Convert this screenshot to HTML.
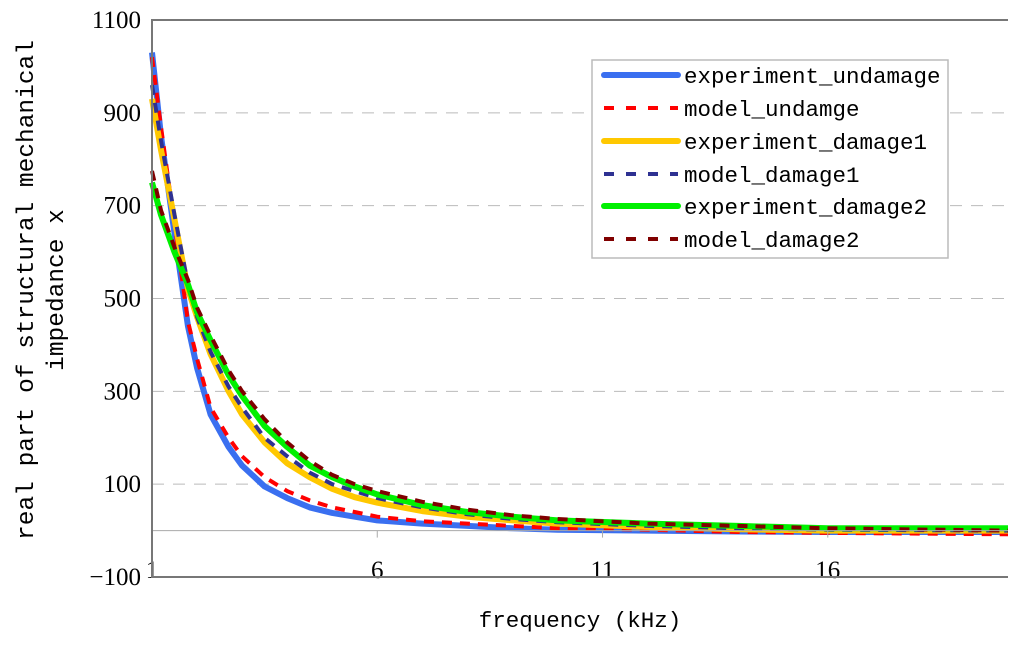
<!DOCTYPE html>
<html><head><meta charset="utf-8"><style>
body{margin:0;background:#fff;}
svg{display:block;font-family:"Liberation Serif",serif;}
.mono{font-family:"Liberation Mono","DejaVu Sans Mono",monospace;}
</style></head><body>
<svg id="chart" width="1024" height="645" viewBox="0 0 1024 645" xmlns="http://www.w3.org/2000/svg">
<g id="grid"></g>
<g id="series"></g>
<g id="axes"></g>
<g id="legend"></g>
<text class="mono" x="580" y="627" font-size="22.5" text-anchor="middle">frequency (kHz)</text>
<text class="mono" font-size="24.5" text-anchor="middle" transform="translate(33,290) rotate(-90)">real part of structural mechanical</text>
<text class="mono" font-size="24.5" text-anchor="middle" transform="translate(63,290) rotate(-90)">impedance x</text>
</svg>
<script>
const yTicks=[-100,100,300,500,700,900,1100];
const xTicks=[1,6,11,16];
const freqs=[1,1.2,1.5,1.8,2,2.3,2.7,3,3.5,4,4.5,5,5.5,6,7,8,9,10,12,14,16,20];
const expUndamage=[1030,850,640,440,350,250,180,140,95,70,50,38,30,22,15,10,5,2,0,-2,-3,-3];
const modelUndamge=[1020,870,660,450,370,265,200,160,115,85,65,50,40,30,20,15,10,5,2,-3,-5,-8];
const expDamage1=[930,820,670,520,460,380,300,250,190,145,115,90,72,60,42,30,22,15,8,3,0,0];
const modelDamage1=[960,840,680,530,460,385,310,265,200,160,125,100,85,70,50,35,25,18,10,5,2,0];
const expDamage2=[750,680,600,530,470,410,335,290,225,180,140,115,95,78,55,40,30,22,15,10,5,5];
const modelDamage2=[775,690,610,540,480,420,345,300,240,190,150,120,100,85,62,45,33,25,15,10,5,0];
const seriesNames=["experiment_undamage","model_undamge","experiment_damage1","model_damage1","experiment_damage2","model_damage2"];
const seriesData=[expUndamage,modelUndamge,expDamage1,modelDamage1,expDamage2,modelDamage2];
const colors=["#3a6ff0","#ff0000","#ffc800","#2e3192","#00f000","#800000"];
const dashed=[false,true,false,true,false,true];

const L=152,R=1008,T=20,B=577;
const X=v=>L+(v-1)*(R-L)/19;
const Y=v=>B-(v+100)*(B-T)/1200;
const NS="http://www.w3.org/2000/svg";
function mk(tag,attrs,parent){const e=document.createElementNS(NS,tag);for(const k in attrs)e.setAttribute(k,attrs[k]);parent.appendChild(e);return e;}
const grid=document.getElementById('grid'),axes=document.getElementById('axes'),ser=document.getElementById('series'),leg=document.getElementById('legend');
yTicks.forEach(t=>{
  if(t>-100&&t<1100){const g=mk('line',{x1:L,x2:R,y1:Y(t),y2:Y(t),stroke:'#bbb','stroke-width':1,'stroke-dasharray':'12,9'},grid);
  
  }
  const tx=mk('text',{x:141,y:Y(t)+8,'font-size':25,'text-anchor':'end'},axes);
  tx.textContent=t<0?'\u2212'+Math.abs(t):t;
  
  
});
const zl=mk('line',{x1:L,x2:R,y1:Y(0),y2:Y(0),stroke:'#aaa','stroke-width':1},axes);


xTicks.forEach(t=>{
  mk('line',{x1:X(t),x2:X(t),y1:Y(0),y2:Y(0)+7,stroke:'#aaa'},axes);
  const tx=mk('text',{x:X(t),y:578,'font-size':25,'text-anchor':'middle'},axes);
  tx.textContent=t;
  
  
});
const ax=mk('path',{d:`M${R},${T}H${L}V${B}H${R}`,fill:'none',stroke:'#777','stroke-width':2},axes);


seriesData.forEach((d,i)=>{
  const p=d.map((v,j)=>(j?'L':'M')+X(freqs[j]).toFixed(1)+','+Y(v).toFixed(1)).join('');
  const a={d:p,fill:'none',stroke:colors[i],'stroke-width':dashed[i]?4:6,'stroke-linejoin':'round'};
  if(dashed[i])a['stroke-dasharray']='10,8';
  const e=mk('path',a,ser);
  
  
});
const box=mk('rect',{x:592,y:60,width:356,height:198,fill:'#fff',stroke:'#bbb','stroke-width':1.5},leg);


const rows=[75,108,141,174,206,239];
seriesNames.forEach((n,i)=>{
  const y=rows[i];
  const a={x1:604,x2:678,y1:y,y2:y,stroke:colors[i],'stroke-width':dashed[i]?4:6,'stroke-linecap':dashed[i]?'butt':'round'};
  if(dashed[i])a['stroke-dasharray']='10,12';
  mk('line',a,leg);
  const t=mk('text',{x:684,y:y+8,'font-size':22.5,class:'mono'},leg);
  t.textContent=n;
  
  
});
</script>
</body></html>
